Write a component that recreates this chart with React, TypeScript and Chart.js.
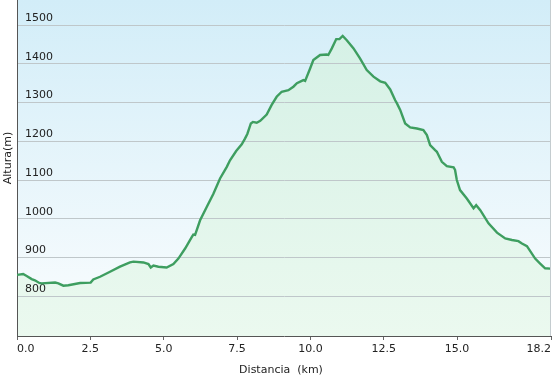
import React, { useEffect, useRef } from 'react';
import { Chart, registerables, Filler } from 'chart.js';

const distanceKm = [
  0.0, 0.21, 0.33, 0.5, 0.61, 0.76, 0.84, 1.3, 1.41, 1.58, 1.75, 2.15, 2.51, 2.6, 2.83,
  3.17, 3.51, 3.85, 3.97, 4.31, 4.48, 4.56, 4.65, 4.82, 5.1, 5.33, 5.5, 5.73, 5.96, 6.01,
  6.07, 6.24, 6.47, 6.69, 6.92, 7.15, 7.26, 7.47, 7.66, 7.77, 7.85, 7.97, 8.04, 8.17, 8.29,
  8.51, 8.68, 8.85, 9.02, 9.25, 9.42, 9.54, 9.76, 9.82, 9.99, 10.1, 10.33, 10.56, 10.61, 10.73,
  10.88, 10.99, 11.1, 11.24, 11.47, 11.69, 11.92, 12.15, 12.38, 12.55, 12.72, 12.89, 12.95, 13.06,
  13.23, 13.4, 13.63, 13.85, 13.97, 14.08, 14.25, 14.31, 14.48, 14.65, 14.88, 14.93, 14.99, 15.1,
  15.33, 15.56, 15.65, 15.79, 16.07, 16.36, 16.64, 16.87, 17.09, 17.21, 17.38, 17.66, 17.83, 18.0,
  18.17, 18.2,
];

const altitudeM = [
  855, 857, 852, 844, 841, 834, 833, 835, 833, 827, 828, 834, 835, 843, 850,
  863, 876, 887, 889, 887, 883, 874, 879, 876, 874, 883, 897, 923, 953, 959,
  958, 996, 1031, 1064, 1104, 1134, 1151, 1175, 1192, 1207, 1219, 1246, 1250, 1248, 1253,
  1269, 1294, 1315, 1328, 1332, 1341, 1350, 1358, 1356, 1388, 1410, 1423, 1424, 1423, 1440,
  1464, 1464, 1472, 1461, 1440, 1414, 1384, 1367, 1355, 1351, 1334, 1306, 1298, 1281,
  1246, 1236, 1233, 1229, 1216, 1190, 1177, 1173, 1147, 1136, 1133, 1126, 1100, 1074,
  1052, 1027, 1035, 1022, 988, 964, 949, 945, 942, 936, 929, 897, 884, 872,
  871, 871,
];

const xTickValues = [0, 2.5, 5, 7.5, 10, 12.5, 15, 18.2];
const yTickValues = [800, 900, 1000, 1100, 1200, 1300, 1400, 1500];
const xAxisTitle = 'Distancia  (km)';
const yAxisTitle = 'Altura(m)';

const FONT_FAMILY = '"DejaVu Sans", Verdana, sans-serif';
const TEXT_COLOR = '#222222';

// Background of the plot area, registered before the Filler so it paints first.
const plotBackground = {
  id: 'plotBackground',
  beforeDraw(chart: any) {
    const { ctx, chartArea: a } = chart;
    if (!a) return;
    const g = ctx.createLinearGradient(0, a.top, 0, a.bottom);
    g.addColorStop(0, '#d2edf8');
    g.addColorStop(1, '#fbfdfe');
    ctx.save();
    ctx.fillStyle = g;
    ctx.fillRect(a.left, a.top, a.right - a.left, a.bottom - a.top);
    ctx.restore();
  },
};

Chart.register(...registerables);
Chart.unregister(Filler);
Chart.register(plotBackground);
Chart.register(Filler);

export default function App() {
  const canvasRef = useRef<HTMLCanvasElement | null>(null);

  useEffect(() => {
    const canvas = canvasRef.current;
    if (!canvas) return;

    const decorPlugin = {
      id: 'decor',
      afterDraw(chart: any) {
        const { ctx, chartArea: a } = chart;
        ctx.save();
        ctx.strokeStyle = '#c4cccf';
        ctx.lineWidth = 1;
        ctx.beginPath();
        ctx.moveTo(a.right - 0.5, a.top);
        ctx.lineTo(a.right - 0.5, a.bottom);
        ctx.stroke();
        ctx.fillStyle = TEXT_COLOR;
        ctx.font = `11px ${FONT_FAMILY}`;
        ctx.textAlign = 'center';
        ctx.textBaseline = 'middle';
        ctx.fillText(xAxisTitle, (a.left + a.right) / 2 - 3, 370);
        ctx.translate(8.5, 158);
        ctx.rotate(-Math.PI / 2);
        ctx.fillText(yAxisTitle, 0, 0);
        ctx.restore();
      },
    };

    const points = distanceKm.map((d, i) => ({ x: d, y: altitudeM[i] }));

    const chart = new Chart(canvas, {
      type: 'line',
      data: {
        datasets: [
          {
            data: points,
            borderColor: '#3e9e60',
            borderWidth: 2.4,
            pointRadius: 0,
            tension: 0,
            fill: 'start',
            backgroundColor: (c: any) => {
              const a = c.chart.chartArea;
              if (!a) return '#e0f5ea';
              const g = c.chart.ctx.createLinearGradient(0, a.top, 0, a.bottom);
              g.addColorStop(0, '#d3f0e5');
              g.addColorStop(1, '#ebf9ef');
              return g;
            },
          },
        ],
      },
      options: {
        animation: false,
        responsive: true,
        maintainAspectRatio: false,
        layout: { padding: { left: 0, right: 5, top: 0, bottom: 0 } },
        plugins: {
          legend: { display: false },
          tooltip: { enabled: false },
          title: { display: false },
          filler: { drawTime: 'beforeDraw' },
        },
        scales: {
          x: {
            type: 'linear',
            min: 0,
            max: 18.2,
            afterBuildTicks: (scale: any) => {
              scale.ticks = xTickValues.map((v) => ({ value: v }));
            },
            afterFit: (scale: any) => {
              scale.height = 44;
              scale.paddingLeft = 0;
              scale.paddingRight = 0;
            },
            grid: {
              drawOnChartArea: false,
              drawTicks: true,
              tickLength: 4,
              color: '#666666',
            },
            border: { display: true, color: '#555555', width: 1 },
            ticks: {
              align: 'inner',
              padding: 3,
              maxRotation: 0,
              autoSkip: false,
              color: TEXT_COLOR,
              font: { family: FONT_FAMILY, size: 11 },
              callback: (v: any) => Number(v).toFixed(1),
            },
          },
          y: {
            type: 'linear',
            min: 697,
            max: 1565,
            afterBuildTicks: (scale: any) => {
              scale.ticks = yTickValues.map((v) => ({ value: v }));
            },
            afterFit: (scale: any) => {
              scale.width = 17;
              scale.paddingTop = 0;
              scale.paddingBottom = 0;
            },
            grid: {
              drawTicks: false,
              color: '#bfc7ca',
              lineWidth: 1,
            },
            border: { display: true, color: '#555555', width: 1 },
            ticks: {
              mirror: true,
              autoSkip: false,
              padding: 8,
              labelOffset: -7,
              color: TEXT_COLOR,
              font: { family: FONT_FAMILY, size: 11 },
              callback: (v: any) => String(v),
            },
          },
        },
      },
      plugins: [decorPlugin],
    } as any);

    return () => chart.destroy();
  }, []);

  return (
    <div style={{ position: 'fixed', left: 0, top: 0, width: 556, height: 380, background: '#ffffff' }}>
      <canvas ref={canvasRef} />
    </div>
  );
}
